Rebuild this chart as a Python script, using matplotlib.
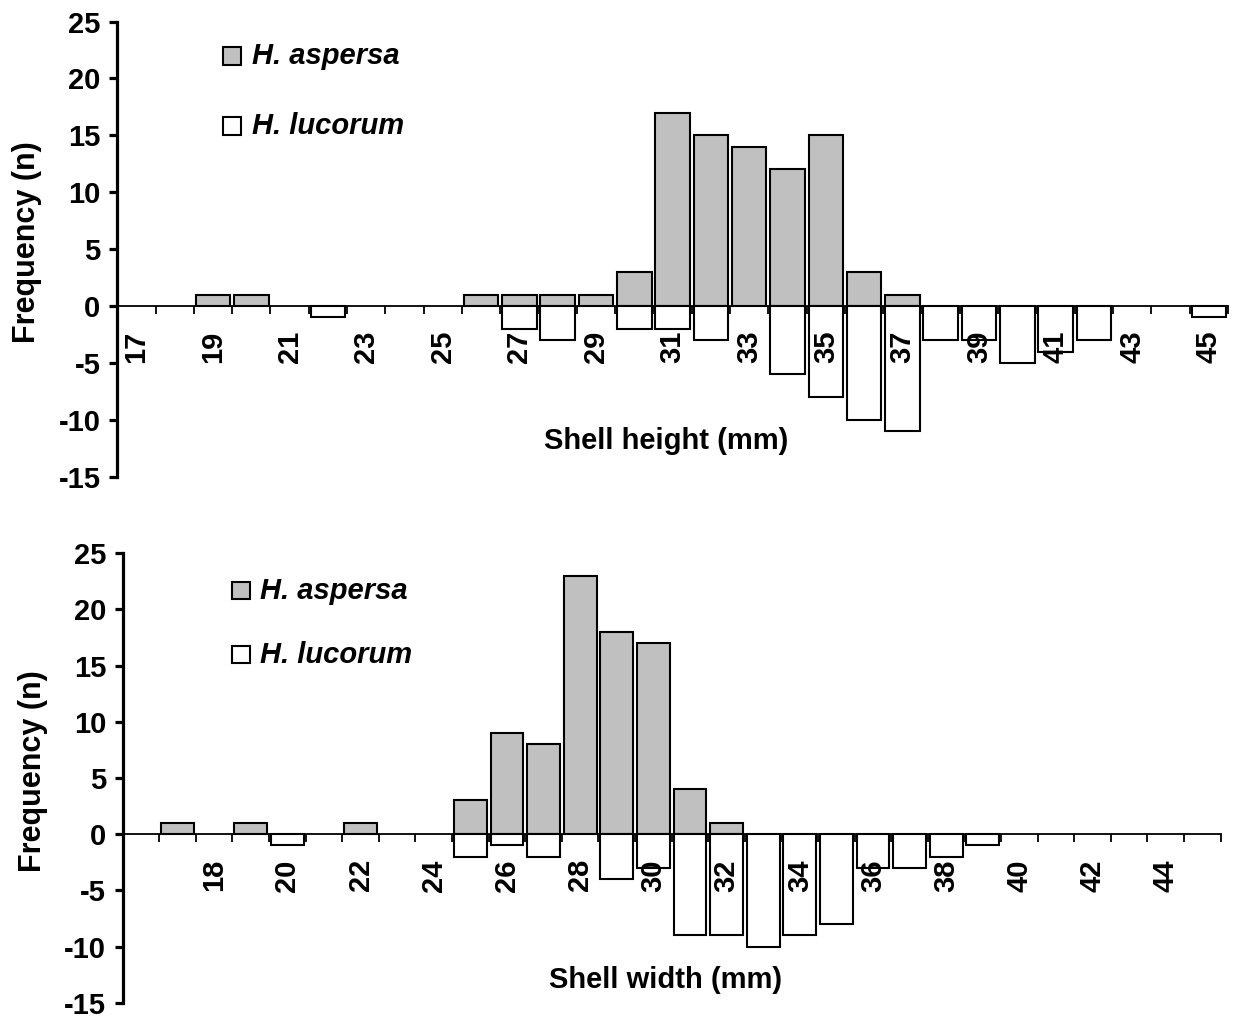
import numpy as np
import matplotlib.pyplot as plt
from matplotlib.patches import Rectangle
from matplotlib.ticker import NullFormatter

plt.rcParams['font.family'] = ['Liberation Sans', 'DejaVu Sans']
plt.rcParams['font.weight'] = 'bold'
plt.rcParams['axes.unicode_minus'] = False

# Shell height classes (mm) and counts
height_mm = list(range(17, 46))
height_aspersa = [0, 0, 1, 1, 0, 0, 0, 0, 0, 1, 1, 1, 1, 3, 17, 15, 14, 12, 15, 3, 1,
                  0, 0, 0, 0, 0, 0, 0, 0]
height_lucorum = [0, 0, 0, 0, 0, 1, 0, 0, 0, 0, 2, 3, 0, 2, 2, 3, 0, 6, 8, 10, 11,
                  3, 3, 5, 4, 3, 0, 0, 1]
height_labels = [17, 19, 21, 23, 25, 27, 29, 31, 33, 35, 37, 39, 41, 43, 45]

# Shell width classes (mm) and counts
width_mm = list(range(16, 46))
width_aspersa = [0, 1, 0, 1, 0, 0, 1, 0, 0, 3, 9, 8, 23, 18, 17, 4, 1,
                 0, 0, 0, 0, 0, 0, 0, 0, 0, 0, 0, 0, 0]
width_lucorum = [0, 0, 0, 0, 1, 0, 0, 0, 0, 2, 1, 2, 0, 4, 3, 9, 9, 10, 9, 8, 3, 3, 2, 1,
                 0, 0, 0, 0, 0, 0]
width_labels = [18, 20, 22, 24, 26, 28, 30, 32, 34, 36, 38, 40, 42, 44]

species = ['H. aspersa', 'H. lucorum']
colors = ['#c0c0c0', 'white']
FS = 21

fig = plt.figure(figsize=(12.33, 10.19), dpi=100)
ax1 = fig.add_axes([0.0951, 0.5322, 0.9008, 0.4467])
ax2 = fig.add_axes([0.0995, 0.0160, 0.8905, 0.4410])


def draw_panel(ax, bins, aspersa, lucorum, labelled, xlabel, xl_pos, yl_pos):
    x = np.arange(len(bins))
    a = np.array(aspersa)
    l = np.array(lucorum)
    ax.bar(x[a > 0], a[a > 0], width=0.9, color=colors[0], edgecolor='black', linewidth=1.5)
    ax.bar(x[l > 0], -l[l > 0], width=0.9, color=colors[1], edgecolor='black', linewidth=1.5)
    ax.set_xlim(-0.5, len(bins) - 0.5)
    ax.set_ylim(-15, 25)
    ax.set_yticks(range(-15, 26, 5))
    for s in ['top', 'right']:
        ax.spines[s].set_visible(False)
    ax.spines['bottom'].set_position(('data', 0))
    ax.spines['bottom'].set_linewidth(1.3)
    ax.spines['left'].set_linewidth(2.3)
    # category boundaries as ticks, labels at category centres
    ax.set_xticks(x + 0.5)
    ax.xaxis.set_major_formatter(NullFormatter())
    ax.set_xticks([bins.index(v) for v in labelled], [str(v) for v in labelled], minor=True)
    ax.tick_params(axis='x', which='major', direction='out', length=6, width=1.3)
    ax.tick_params(axis='x', which='minor', length=0, pad=18, labelrotation=90, labelsize=FS)
    ax.tick_params(axis='y', direction='out', length=6, width=2.3, labelsize=FS, pad=6)
    ax.text(xl_pos[0], xl_pos[1], xlabel, transform=ax.transAxes, ha='center', va='center',
            fontsize=FS, fontweight='bold')
    ax.text(yl_pos[0], yl_pos[1], 'Frequency (n)', transform=ax.transAxes, ha='center',
            va='center', rotation=90, fontsize=FS + 1, fontweight='bold')


draw_panel(ax1, height_mm, height_aspersa, height_lucorum, height_labels,
           'Shell height (mm)', (0.494, 0.078), (-0.0813, 0.515))
draw_panel(ax2, width_mm, width_aspersa, width_lucorum, width_labels,
           'Shell width (mm)', (0.494, 0.05), (-0.0817, 0.515))

# legends drawn by hand
legend_rows = [
    (0.1806, [0.9362, 0.8675], 0.2041, [0.9446, 0.8763]),
    (0.1879, [0.4119, 0.3491], 0.2109, [0.4205, 0.3575]),
]
for bx, bys, tx, tys in legend_rows:
    for name, col, by, ty in zip(species, colors, bys, tys):
        fig.add_artist(Rectangle((bx, by), 0.0152, 0.0174, transform=fig.transFigure,
                                 facecolor=col, edgecolor='black', linewidth=1.5))
        fig.text(tx, ty, name, ha='left', va='center', fontsize=FS,
                 fontweight='bold', fontstyle='italic')

fig.savefig('out.png', dpi=100)
